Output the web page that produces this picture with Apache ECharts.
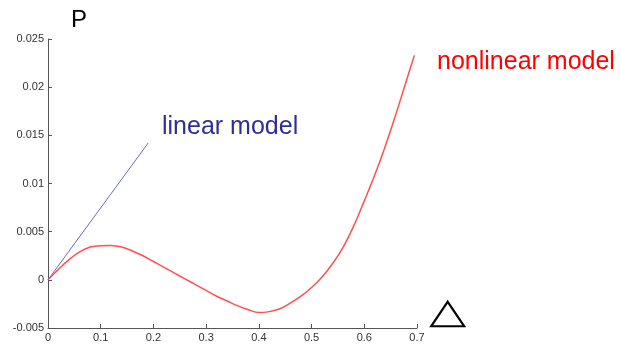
<!DOCTYPE html>
<html>
<head>
<meta charset="utf-8">
<script src="https://cdn.jsdelivr.net/npm/echarts@6/dist/echarts.min.js"></script>
<style>
  html, body { margin: 0; padding: 0; background: #fff; }
  #chart { width: 621px; height: 344px; }
</style>
</head>
<body>
<div id="chart"></div>
<script>
// Power P against the displacement, nonlinear response and its linearisation at the origin
const deltaValues = [0, 0.02, 0.04, 0.06, 0.08, 0.10, 0.12, 0.14, 0.16, 0.18, 0.20, 0.22, 0.24, 0.26, 0.28,
  0.30, 0.32, 0.34, 0.36, 0.38, 0.40, 0.42, 0.44, 0.46, 0.48, 0.50, 0.52, 0.54, 0.56, 0.58, 0.60,
  0.62, 0.64, 0.66, 0.68, 0.695];
const nonlinearP = [0, 0.0011, 0.0021, 0.0029, 0.0034, 0.00355, 0.00356, 0.0034, 0.0030, 0.0025, 0.0019,
  0.0013, 0.0007, 0.0001, -0.0005, -0.0011, -0.0017, -0.0022, -0.0027, -0.0031, -0.0034, -0.0033,
  -0.0030, -0.0024, -0.0017, -0.0008, 0.0003, 0.0017, 0.0034, 0.0056, 0.0082, 0.0109, 0.0139,
  0.0172, 0.0207, 0.0233];
const linearDelta = [0, 0.19];
const linearP = [0, 0.0142];
const xTicks = { min: 0, max: 0.7, step: 0.1 };
const yTicks = { min: -0.005, max: 0.025, step: 0.005 };

const fmt = v => String(+v.toFixed(3));
const axisCommon = {
  type: 'value',
  splitLine: { show: false },
  axisLine: { show: true, onZero: false, lineStyle: { color: '#555', width: 1 } },
  axisTick: { show: true, inside: true, length: 4, lineStyle: { color: '#555' } },
  axisLabel: { color: '#333', fontFamily: 'Liberation Sans', fontSize: 11, formatter: fmt }
};

const chart = echarts.init(document.getElementById('chart'), null, { renderer: 'canvas' });
chart.setOption({
  animation: false,
  backgroundColor: '#ffffff',
  grid: { left: 48, right: 204, top: 39, bottom: 16, containLabel: false },
  xAxis: Object.assign({}, axisCommon, {
    min: xTicks.min, max: xTicks.max, interval: xTicks.step,
    axisLabel: Object.assign({}, axisCommon.axisLabel, { margin: 4 })
  }),
  yAxis: Object.assign({}, axisCommon, {
    min: yTicks.min, max: yTicks.max, interval: yTicks.step,
    axisLabel: Object.assign({}, axisCommon.axisLabel, { margin: 4 })
  }),
  series: [
    {
      name: 'nonlinear model', type: 'line', smooth: 0.4, showSymbol: false,
      data: deltaValues.map((d, i) => [d, nonlinearP[i]]),
      lineStyle: { color: '#ff5050', width: 1.5 }
    },
    {
      name: 'linear model', type: 'line', showSymbol: false,
      data: linearDelta.map((d, i) => [d, linearP[i]]),
      lineStyle: { color: '#6a6ac0', width: 1 }
    }
  ],
  graphic: [
    { type: 'text', left: 71, top: 8, style: { text: 'P', fontFamily: 'Liberation Sans', fontSize: 24, fill: '#000' } },
    { type: 'text', left: 162, top: 115, style: { text: 'linear model', fontFamily: 'Liberation Sans', fontSize: 25, fill: '#2e2e98' } },
    { type: 'text', left: 437, top: 50, style: { text: 'nonlinear model', fontFamily: 'Liberation Sans', fontSize: 25, fill: '#ff0000' } },
    { type: 'text', left: 429, top: 296, scaleX: 1.35, style: { text: '△', fontFamily: 'DejaVu Sans', fontSize: 36, fill: '#000' } }
  ]
});
</script>
</body>
</html>
